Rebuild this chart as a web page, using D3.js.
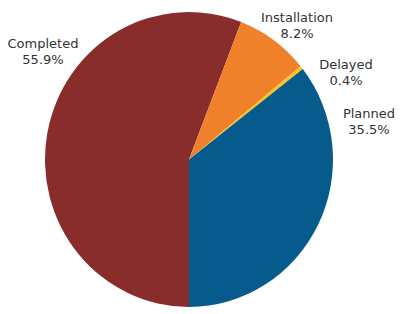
<!DOCTYPE html>
<html><head><meta charset="utf-8">
<script src="https://cdn.jsdelivr.net/npm/d3@7"></script>
<style>html,body{margin:0;padding:0;background:#fff;}</style>
</head><body>
<svg id="chart" width="400" height="314"></svg>
<script>
const categories = ["Completed", "Installation", "Delayed", "Planned"];
const values = [55.9, 8.2, 0.4, 35.5];
const valueLabels = ["55.9%", "8.2%", "0.4%", "35.5%"];
const colors = ["#882c2c", "#ef812b", "#f7c51d", "#065b8c"];
// label anchor positions (layout, not data)
const labelPos = [[43, 48], [297, 22], [346, 69], [369, 118]];

const svg = d3.select("#chart");
const cx = 189, cy = 159.5, r = 144;
const g = svg.append("g").attr("transform", `translate(${cx},${cy}) scale(1,1.024)`);
const pie = d3.pie().sort(null).startAngle(Math.PI).endAngle(3 * Math.PI);
const arc = d3.arc().innerRadius(0).outerRadius(r);
const color = d3.scaleOrdinal().domain(categories).range(colors);
const arcs = pie(values.map((v, i) => ({ v, i }))).map((d, i) => d);
g.selectAll("path").data(pie(values)).join("path")
  .attr("d", arc)
  .attr("fill", (d, i) => color(categories[i]));

const lbl = svg.selectAll("text.lbl").data(categories).join("text")
  .attr("class", "lbl")
  .attr("text-anchor", "middle")
  .attr("font-family", "DejaVu Sans, Verdana, sans-serif")
  .attr("font-size", 13)
  .attr("fill", "#333");
lbl.append("tspan").attr("x", (d, i) => labelPos[i][0]).attr("y", (d, i) => labelPos[i][1]).text(d => d);
lbl.append("tspan").attr("x", (d, i) => labelPos[i][0]).attr("dy", 16).text((d, i) => valueLabels[i]);
</script>
</body></html>
